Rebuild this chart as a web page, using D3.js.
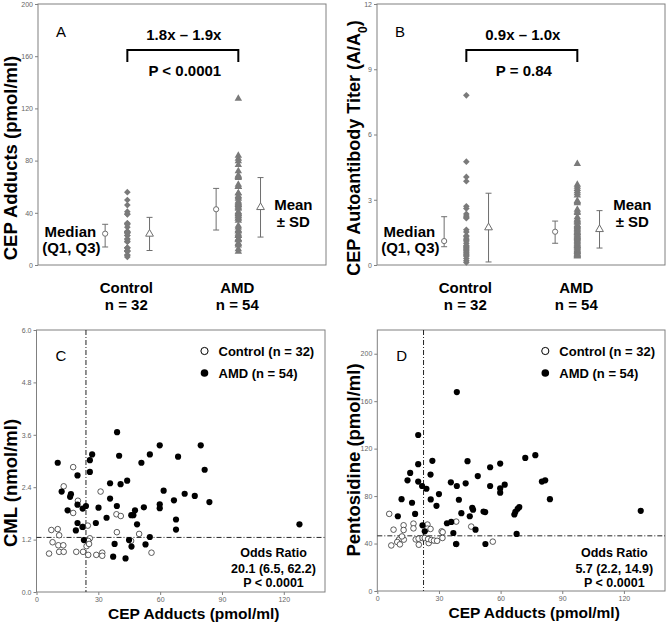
<!DOCTYPE html>
<html><head><meta charset="utf-8">
<script src="https://cdn.jsdelivr.net/npm/d3@7"></script>
<style>body{margin:0;background:#fff} svg text{font-family:"Liberation Sans",Arial,sans-serif}</style>
</head><body><svg id="c" width="669" height="628"></svg>
<script>
// ---------------- DATA ----------------
const groups = ["Control", "AMD"];
const groupN = [32, 54];

// CEP adducts (pmol/ml) and CML (nmol/ml), panel C (also used for panel A strip)
const cepControl = [17.8,13.2,31.1,20.1,17.8,38.8,40.9,24.9,22.6,7.2,10.3,11.0,39.0,49.8,25.9,25.1,7.8,10.6,13.0,24.3,45.9,6.1,11.0,13.2,19.3,22.6,25.1,29.0,31.9,31.9,55.8,25.5];
const cmlControl = [2.86,2.42,2.30,2.09,1.81,1.78,1.74,1.52,1.49,1.42,1.44,1.30,1.37,1.33,1.23,1.17,1.14,1.07,1.07,1.05,1.17,0.88,0.92,0.92,0.92,0.92,0.85,0.85,0.90,0.83,0.90,1.10];
const cepAMD = [39.1,59.8,10.3,27.0,25.9,40.1,55.0,68.7,50.9,19.9,25.9,35.7,40.8,44.0,12.2,16.7,16.3,35.7,61.7,66.7,19.9,24.0,22.4,15.1,30.1,39.0,52.1,59.8,59.8,47.8,46.0,47.0,34.0,28.8,19.9,48.8,67.7,22.3,19.1,67.7,23.0,55.0,44.9,46.1,37.9,52.9,37.2,43.2,79.7,81.6,71.9,76.8,83.9,127.6];
const cmlAMD = [3.66,3.36,2.96,3.15,3.02,3.12,3.15,3.10,2.96,2.67,2.75,2.49,2.47,2.55,2.30,2.24,2.18,2.14,2.32,2.10,2.00,1.97,1.91,1.87,1.93,1.97,1.94,2.01,1.92,1.87,1.76,1.76,1.70,1.58,1.58,1.55,1.66,1.49,1.41,1.43,1.19,1.26,1.19,1.04,1.10,1.09,0.81,0.77,3.36,2.80,2.25,2.20,2.06,1.55];

// Panel D: CEP adducts vs pentosidine (pmol/ml)
const cepDControl = [5.8,7.9,12.8,12.8,17.6,17.6,24.4,24.4,38.4,45.7,31.3,31.8,25.9,6.8,10.5,9.7,11.0,12.9,18.7,20.1,20.2,22.0,23.1,25.0,24.7,26.3,27.6,29.1,31.7,56.2,38.5,12.0];
const pentoControl = [65.0,51.7,55.4,51.4,56.8,52.8,56.0,52.6,58.5,54.3,50.3,49.6,52.3,38.4,43.3,41.3,39.3,43.3,43.5,44.1,39.0,44.7,44.7,40.4,43.8,43.0,42.5,42.3,44.7,41.6,39.6,46.0];
const cepDAMD = [38.7,19.9,26.8,19.9,43.9,59.8,54.9,16.0,25.9,14.7,19.9,48.9,21.8,23.9,35.8,38.7,43.0,54.9,59.8,59.8,62.0,11.8,26.0,30.0,16.9,28.8,39.7,18.4,10.0,40.9,46.2,46.6,45.0,51.7,52.5,33.9,36.0,47.8,22.0,23.1,37.0,38.3,52.6,67.8,66.7,67.2,68.3,69.1,72.0,76.9,80.1,81.7,84.0,128.2];
const pentoAMD = [167.7,131.5,109.7,106.9,109.4,107.4,104.3,99.5,98.1,93.3,92.2,96.9,88.5,86.2,91.6,88.5,90.8,88.5,86.5,82.9,89.6,77.4,77.2,81.7,74.4,71.8,76.9,65.0,63.0,65.6,70.1,68.5,63.0,67.0,66.5,57.1,58.2,51.7,55.4,50.3,48.9,39.6,39.6,48.1,64.5,66.7,69.3,70.7,112.2,114.5,92.2,93.3,77.4,67.6];

// Panel B: CEP autoantibody titer (A/A0)
const titerControl = [7.8,4.75,4.05,3.85,2.7,2.6,2.35,2.25,2.2,2.15,1.62,1.52,1.35,1.3,1.2,1.15,1.1,1.0,0.9,0.85,0.8,0.75,0.7,0.65,0.6,0.55,0.5,0.45,0.4,0.3,0.2,0.12];
const titerAMD = [4.65,3.7,3.6,3.5,3.4,3.3,3.2,2.95,2.9,2.85,2.55,2.45,2.4,2.2,2.1,2.05,2.0,1.95,1.85,1.8,1.75,1.7,1.65,1.6,1.55,1.5,1.48,1.45,1.4,1.35,1.3,1.28,1.25,1.2,1.15,1.1,1.05,1.0,0.95,0.9,0.88,0.85,0.8,0.75,0.7,0.65,0.62,0.6,0.55,0.5,0.48,0.45,0.42,0.4];

// Summary statistics
const cepMedian = [24.0, 42.7], cepQ1 = [13.8, 26.8], cepQ3 = [31.2, 58.7];
const cepMean = [23.8, 44.2], cepSD = [12.7, 22.8];
const titerMedian = [1.10, 1.53], titerQ1 = [0.84, 1.00], titerQ3 = [2.22, 2.02];
const titerMean = [1.72, 1.64], titerSD = [1.58, 0.86];

// Cut-offs (dash-dot lines)
const cutC = {x: 24.0, y: 1.25};
const cutD = {x: 22.5, y: 46.5};

// Ticks
const ticksA = [0,40,80,120,160,200];
const ticksB = [0,3,6,9,12];
const ticksC = [0,1.2,2.4,3.6,4.8,6.0];
const ticksD = [0,40,80,120,160,200];
const ticksX = [0,30,60,90,120];

// ---------------- DRAW ----------------
const svg = d3.select("#c");
const GRAY = "#808080", PT = "#7a7a7a", EB = "#6e6e6e";

function styleAxis(ax){
  ax.select(".domain").remove();
  ax.selectAll(".tick line").attr("stroke", GRAY);
  ax.selectAll(".tick text").attr("fill","#666").style("font-size","7px");
}

function frame(g, L, R, T, B){
  g.append("rect").attr("x",L).attr("y",T).attr("width",R-L).attr("height",B-T)
    .attr("fill","none").attr("stroke",GRAY).attr("stroke-width",1);
}

function strip(cfg){
  const g = svg.append("g");
  const x = d3.scaleLinear().domain([-0.805, 1.79]).range([cfg.L, cfg.R]);
  const y = d3.scaleLinear().domain(cfg.ydom).range([cfg.B, cfg.T]);
  const ax = g.append("g").attr("transform",`translate(${cfg.L},0)`)
    .call(d3.axisLeft(y).tickValues(cfg.ticks).tickSize(3).tickPadding(2).tickFormat(d3.format("d")));
  styleAxis(ax);
  frame(g, cfg.L, cfg.R, cfg.T, cfg.B);

  const off = 0.2;
  groups.forEach((grp,i)=>{
    const bars = [
      {cx: x(i-off), lo: cfg.q1[i], hi: cfg.q3[i]},
      {cx: x(i+off), lo: cfg.mean[i]-cfg.sd[i], hi: cfg.mean[i]+cfg.sd[i]}
    ];
    bars.forEach(b=>{
      g.append("line").attr("x1",b.cx).attr("x2",b.cx).attr("y1",y(b.lo)).attr("y2",y(b.hi)).attr("stroke",EB);
      [b.lo,b.hi].forEach(v=>g.append("line").attr("x1",b.cx-3).attr("x2",b.cx+3).attr("y1",y(v)).attr("y2",y(v)).attr("stroke",EB));
    });
    g.append("circle").attr("cx",x(i-off)).attr("cy",y(cfg.median[i])).attr("r",2.6)
      .attr("fill","#fff").attr("stroke",EB);
    g.append("path").attr("d",d3.symbol(d3.symbolTriangle, 26)())
      .attr("transform",`translate(${x(i+off)},${y(cfg.mean[i])})`).attr("fill","#fff").attr("stroke",EB);
  });
  g.selectAll(".pc").data(cfg.vals[0]).join("path")
    .attr("d", d3.symbol(d3.symbolSquare, 22)())
    .attr("transform", d=>`translate(${x(0)},${y(d)}) rotate(45)`).attr("fill",PT);
  g.selectAll(".pa").data(cfg.vals[1]).join("path")
    .attr("d", d3.symbol(d3.symbolTriangle, 24)())
    .attr("transform", d=>`translate(${x(1)},${y(d)})`).attr("fill",PT);

  const by = cfg.T + 46;
  g.append("path").attr("d",`M${x(0)},${by+12}V${by}H${x(1)}V${by+12}`)
    .attr("fill","none").attr("stroke","#000").attr("stroke-width",2);
  const mid = (x(0)+x(1))/2;
  g.append("text").attr("x",mid+1).attr("y",cfg.T+36).attr("text-anchor","middle")
    .style("font-size","15px").style("font-weight","bold").text(cfg.fold);
  g.append("text").attr("x",mid+2).attr("y",cfg.T+72).attr("text-anchor","middle")
    .style("font-size","15px").style("font-weight","bold").text(cfg.p);
  g.append("text").attr("x",cfg.L+18).attr("y",cfg.T+33).style("font-size","15px").text(cfg.letter);

  const tb = (t,xx,yy,anchor="middle")=>g.append("text").attr("x",xx).attr("y",yy).attr("text-anchor",anchor)
    .style("font-size","15px").style("font-weight","bold").text(t);
  tb("Median", x(0)-57, cfg.B-28);
  tb("(Q1, Q3)", x(0)-56, cfg.B-12);
  tb("Mean", x(1)+55, cfg.B-55);
  tb("\u00B1 SD", x(1)+55, cfg.B-38);
  groups.forEach((grp,i)=>{
    tb(grp, x(i)-1, cfg.B+28);
    tb("n = "+groupN[i], x(i)-1, cfg.B+45);
  });
  return g;
}

const gA = strip({L:38, R:326, T:4, B:265, ydom:[0,200], ticks:ticksA,
  vals:[cepControl, cepAMD], median:cepMedian, q1:cepQ1, q3:cepQ3, mean:cepMean, sd:cepSD,
  fold:"1.8x \u2013 1.9x", p:"P < 0.0001", letter:"A"});
gA.append("text").attr("transform","translate(17,158) rotate(-90)").attr("text-anchor","middle")
  .style("font-size","18.5px").style("font-weight","bold").text("CEP Adducts (pmol/ml)");

const gB = strip({L:377, R:665, T:4, B:265, ydom:[0,12], ticks:ticksB,
  vals:[titerControl, titerAMD], median:titerMedian, q1:titerQ1, q3:titerQ3, mean:titerMean, sd:titerSD,
  fold:"0.9x \u2013 1.0x", p:"P = 0.84", letter:"B"});
const tB = gB.append("text").attr("transform","translate(360,148) rotate(-90)").attr("text-anchor","middle")
  .style("font-size","18px").style("font-weight","bold");
tB.append("tspan").text("CEP Autoantibody Titer (A/A");
tB.append("tspan").attr("baseline-shift","sub").style("font-size","12px").text("0");
tB.append("tspan").text(")");

function scatter(cfg){
  const g = svg.append("g");
  const x = d3.scaleLinear().domain([0,140]).range([cfg.L, cfg.R]);
  const y = d3.scaleLinear().domain(cfg.ydom).range([cfg.B, cfg.T]);
  const ay = g.append("g").attr("transform",`translate(${cfg.L},0)`)
    .call(d3.axisLeft(y).tickValues(cfg.ticks).tickSize(3).tickPadding(2).tickFormat(cfg.fmt));
  styleAxis(ay);
  const axb = g.append("g").attr("transform",`translate(0,${cfg.B})`)
    .call(d3.axisBottom(x).tickValues(ticksX).tickSize(3).tickPadding(2).tickFormat(d3.format("d")));
  styleAxis(axb);
  frame(g, cfg.L, cfg.R, cfg.T, cfg.B);
  g.append("line").attr("x1",x(cfg.cut.x)).attr("x2",x(cfg.cut.x)).attr("y1",cfg.T).attr("y2",cfg.B)
    .attr("stroke","#222").attr("stroke-dasharray","5,2,1,2");
  g.append("line").attr("x1",cfg.L).attr("x2",cfg.R).attr("y1",y(cfg.cut.y)).attr("y2",y(cfg.cut.y))
    .attr("stroke","#222").attr("stroke-dasharray","5,2,1,2");
  g.selectAll(".o").data(cfg.cx).join("circle")
    .attr("cx",d=>x(d)).attr("cy",(d,i)=>y(cfg.cy[i])).attr("r",2.8)
    .attr("fill","#fff").attr("stroke","#333").attr("stroke-width",0.8);
  g.selectAll(".f").data(cfg.ax).join("circle")
    .attr("cx",d=>x(d)).attr("cy",(d,i)=>y(cfg.ay[i])).attr("r",3.1).attr("fill","#000");
  const lx = cfg.L+168;
  g.append("circle").attr("cx",lx).attr("cy",cfg.T+21).attr("r",3.6).attr("fill","#fff").attr("stroke","#000").attr("stroke-width",1);
  g.append("circle").attr("cx",lx).attr("cy",cfg.T+43).attr("r",3.8).attr("fill","#000");
  g.append("text").attr("x",lx+14).attr("y",cfg.T+26).style("font-size","13px").style("font-weight","bold").text("Control (n = 32)");
  g.append("text").attr("x",lx+14).attr("y",cfg.T+48).style("font-size","13px").style("font-weight","bold").text("AMD (n = 54)");
  g.append("text").attr("x",cfg.L+19).attr("y",cfg.T+31).style("font-size","15px").text(cfg.letter);
  const ox = cfg.L+237;
  [["Odds Ratio",227],[cfg.or,243],["P < 0.0001",257]].forEach(([t,dy])=>
    g.append("text").attr("x",ox).attr("y",cfg.T+dy).attr("text-anchor","middle")
      .style("font-size","12.5px").style("font-weight","bold").text(t));
  g.append("text").attr("x",(cfg.L+cfg.R)/2+13).attr("y",cfg.B+27).attr("text-anchor","middle")
    .style("font-size","15.5px").style("font-weight","bold").text("CEP Adducts (pmol/ml)");
  g.append("text").attr("transform",`translate(${cfg.ytX},${cfg.ytY}) rotate(-90)`).attr("text-anchor","middle")
    .style("font-size","18.5px").style("font-weight","bold").text(cfg.ytitle);
}

scatter({L:36.5, R:325, T:330, B:592, ydom:[0,6], ticks:ticksC, fmt:d3.format(".1f"),
  cx:cepControl, cy:cmlControl, ax:cepAMD, ay:cmlAMD, cut:cutC, letter:"C",
  or:"20.1 (6.5, 62.2)", ytitle:"CML (nmol/ml)", ytX:16.5, ytY:483});
scatter({L:377.3, R:665, T:330, B:591, ydom:[0,220], ticks:ticksD, fmt:d3.format("d"),
  cx:cepDControl, cy:pentoControl, ax:cepDAMD, ay:pentoAMD, cut:cutD, letter:"D",
  or:"5.7 (2.2, 14.9)", ytitle:"Pentosidine (pmol/ml)", ytX:360, ytY:460});
</script></body></html>
